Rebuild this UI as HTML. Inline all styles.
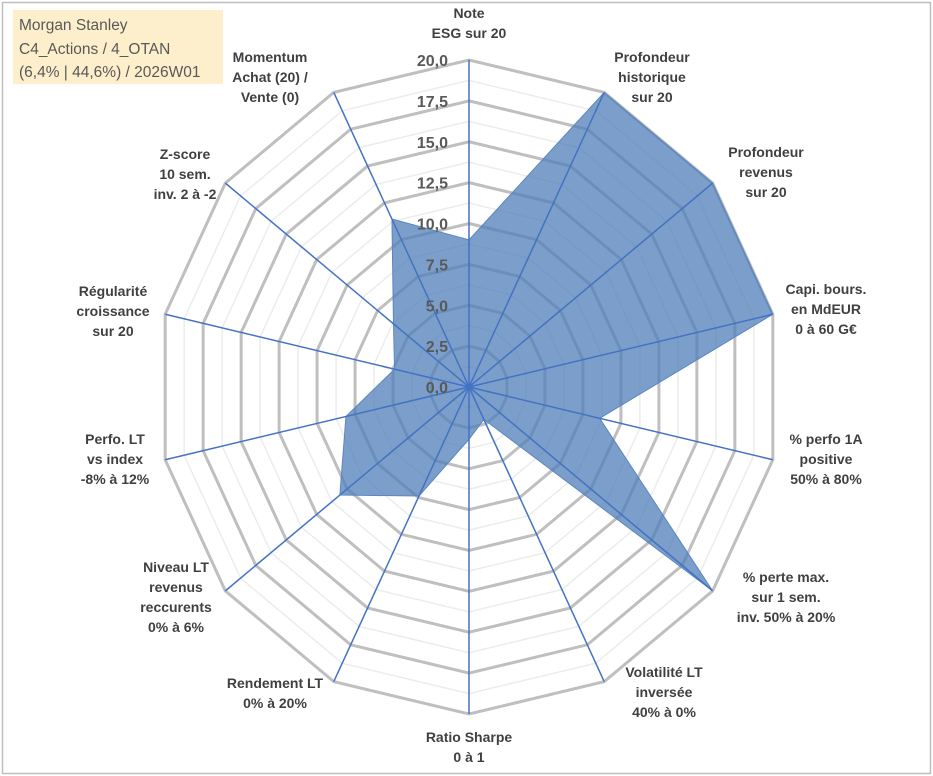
<!DOCTYPE html>
<html><head><meta charset="utf-8"><style>
body{margin:0;background:#fff;}
svg{display:block;font-family:"Liberation Sans",Arial,sans-serif;}
</style></head><body>
<svg id="chart" width="933" height="776" viewBox="0 0 933 776">
<rect x="2.5" y="2.5" width="928" height="771" fill="#fff" stroke="#bfbfbf" stroke-width="1.5"/>
<g id="grid"></g>
<g id="series"></g>
<g id="axes"></g>
<g id="ticks"></g>
<g id="labels"></g>
<g>
<rect x="13" y="10" width="210" height="74" fill="#fdefcc"/>
<text x="19" y="30" font-size="15.5" fill="#595959">Morgan Stanley</text>
<text x="19" y="54" font-size="15.5" fill="#595959">C4_Actions / 4_OTAN</text>
<text x="19" y="77" font-size="15.5" fill="#595959">(6,4% | 44,6%) / 2026W01</text>
</g>
</svg>
<script>
const categories=[
["Note","ESG sur 20"],
["Profondeur","historique","sur 20"],
["Profondeur","revenus","sur 20"],
["Capi. bours.","en MdEUR","0 à 60 G€"],
["% perfo 1A","positive","50% à 80%"],
["% perte max.","sur 1 sem.","inv. 50% à 20%"],
["Volatilité LT","inversée","40% à 0%"],
["Ratio Sharpe","0 à 1"],
["Rendement LT","0% à 20%"],
["Niveau LT","revenus","reccurents","0% à 6%"],
["Perfo. LT","vs index","-8% à 12%"],
["Régularité","croissance","sur 20"],
["Z-score","10 sem.","inv. 2 à -2"],
["Momentum","Achat (20) /","Vente (0)"]
];
const values=[9.0,20,20,20,8.6,20,2.2,3.2,7.4,10.6,8.1,4.9,6.2,11.4];
const tickLabels=["0,0","2,5","5,0","7,5","10,0","12,5","15,0","17,5","20,0"];
const tickValues=[0,2.5,5,7.5,10,12.5,15,17.5,20];
const labelPos=[[469,18],[652,62],[766,157],[826,294],[826,444],[786,582],[664,677],[469,742],[275,688],[176,572],[115,444],[113,296],[185,159],[270,62]];

const NS="http://www.w3.org/2000/svg";
const cx=469,cy=387,R=327,SX=0.953,maxV=20,N=categories.length;
function ang(i){return -Math.PI/2+i*2*Math.PI/N;}
function pt(i,v){const a=ang(i),r=v/maxV*R;return [cx+r*SX*Math.cos(a),cy+r*Math.sin(a)];}
function mk(tag,attrs,parent){const e=document.createElementNS(NS,tag);for(const k in attrs)e.setAttribute(k,attrs[k]);parent.appendChild(e);return e;}
const grid=document.getElementById('grid');
for(let v=1.25;v<=20.001;v+=1.25){
  const major=Math.abs(v/2.5-Math.round(v/2.5))<1e-6;
  const pts=[];for(let i=0;i<N;i++)pts.push(pt(i,v).join(','));
  const p=mk('polygon',{points:pts.join(' '),fill:'none',stroke:major?'#bfbfbf':'#ececec','stroke-width':major?3:1.5},grid);
  
  
}
const ser=document.getElementById('series');
const poly=mk('polygon',{points:values.map((v,i)=>pt(i,v).join(',')).join(' '),fill:'#4f7fb8','fill-opacity':'0.75',stroke:'#5b86bf','stroke-width':1},ser);


const axes=document.getElementById('axes');
for(let i=0;i<N;i++){const [x,y]=pt(i,maxV);
  const l=mk('line',{x1:cx,y1:cy,x2:x,y2:y,stroke:'#4472c4','stroke-width':1.5},axes);
  
  
}
const ticks=document.getElementById('ticks');
tickValues.forEach((v,k)=>{const y=cy-v/maxV*R;
  const t=mk('text',{x:448,y:y+6,'text-anchor':'end','font-size':16,'font-weight':'bold',fill:'#595959'},ticks);
  t.textContent=tickLabels[k];
  
  
});
const labs=document.getElementById('labels');
categories.forEach((c,i)=>{const [x,y]=labelPos[i];
  const t=mk('text',{x:x,y:y,'text-anchor':'middle','font-size':14,'font-weight':'bold',fill:'#404040'},labs);
  
  
  c.forEach((line,j)=>{const s=mk('tspan',{x:x,dy:j?20:0},t);s.textContent=line;});
});
</script>
</body></html>
